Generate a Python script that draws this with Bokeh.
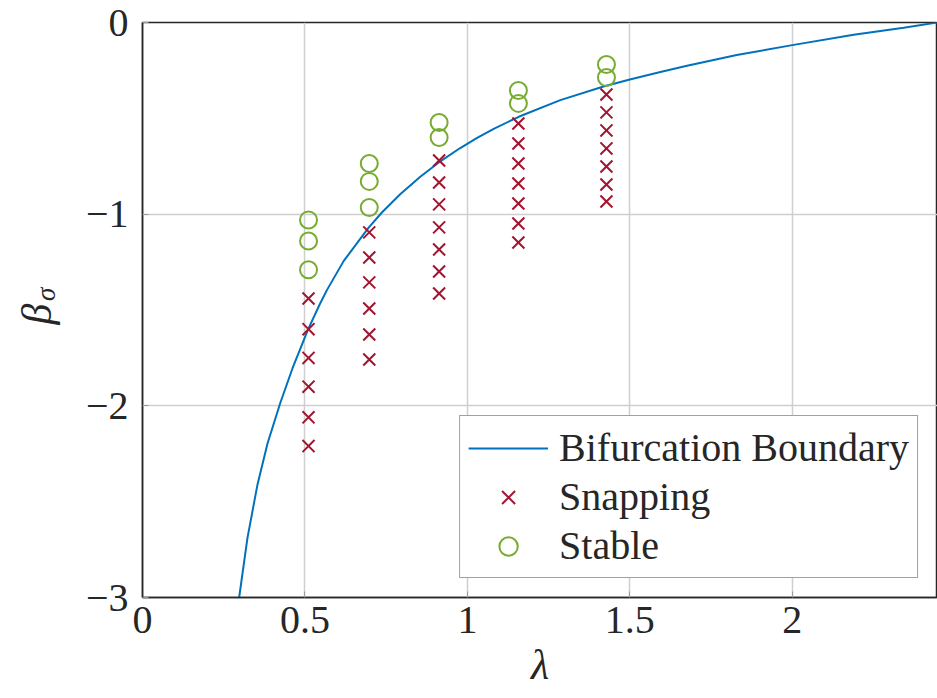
import math
from bokeh.plotting import figure
from bokeh.layouts import row
from bokeh.models import Range1d, FixedTicker, Legend, LegendItem
from bokeh.core.properties import value
from bokeh.embed import file_html
from bokeh.resources import INLINE

# Bifurcation boundary
curve_lambda = [0.2975, 0.323, 0.354, 0.385, 0.424, 0.4615, 0.51, 0.5456, 0.568, 0.619,
                0.696, 0.7375, 0.794, 0.855, 0.912, 0.978, 1.030, 1.081, 1.158, 1.286,
                1.419, 1.5, 1.594, 1.676, 1.829, 2.0, 2.189, 2.343, 2.447]
curve_beta = [-3.000, -2.690, -2.410, -2.195, -1.985, -1.805, -1.600, -1.470, -1.395, -1.245,
              -1.070, -0.990, -0.895, -0.805, -0.730, -0.655, -0.602, -0.555, -0.492, -0.405,
              -0.334, -0.297, -0.258, -0.226, -0.170, -0.118, -0.064, -0.027, 0.0]

# Snapping points
snap_lambda = [0.511] * 6 + [0.698] * 6 + [0.913] * 7 + [1.157] * 7 + [1.428] * 7
snap_beta = [-1.44, -1.60, -1.75, -1.90, -2.06, -2.21,
             -1.095, -1.226, -1.356, -1.492, -1.628, -1.758,
             -0.72, -0.835, -0.949, -1.069, -1.184, -1.299, -1.414,
             -0.527, -0.631, -0.736, -0.840, -0.944, -1.049, -1.148,
             -0.376, -0.469, -0.563, -0.657, -0.751, -0.845, -0.934]

# Stable points
stable_lambda = [0.511] * 3 + [0.698] * 3 + [0.913] * 2 + [1.157] * 2 + [1.428] * 2
stable_beta = [-1.03, -1.14, -1.29,
               -0.736, -0.829, -0.965,
               -0.522, -0.600,
               -0.355, -0.422,
               -0.219, -0.287]

x_ticks = [0, 0.5, 1, 1.5, 2]
x_tick_labels = ["0", "0.5", "1", "1.5", "2"]
y_ticks = [-3, -2, -1, 0]
y_tick_labels = ["\u22123", "\u22122", "\u22121", "0"]
y_label_main = ["\u03b2"]
y_label_sub = ["\u03c3"]

FONT = "Liberation Serif"
DARK = "#262626"
SIDE_W = 70

# narrow side panel holding the y-axis label (beta with subscript sigma)
side = figure(width=SIDE_W, height=698, output_backend="svg", toolbar_location=None,
              x_range=Range1d(0, SIDE_W), y_range=Range1d(698, 0),
              min_border=0, outline_line_color=None)
side.axis.visible = False
side.grid.visible = False
side.background_fill_color = "white"
side.border_fill_color = "white"
side.text(x=[36], y=[354], text=y_label_main, angle=math.pi / 2,
          text_font=value(FONT), text_font_style="italic", text_font_size="42px",
          text_color=DARK, text_align="center", text_baseline="middle")
side.text(x=[45], y=[330], text=y_label_sub, angle=math.pi / 2,
          text_font=value(FONT), text_font_style="italic", text_font_size="27px",
          text_color=DARK, text_align="center", text_baseline="middle")

p = figure(width=937 - SIDE_W, height=698, output_backend="svg", toolbar_location=None,
           x_range=Range1d(0, 2.447), y_range=Range1d(-3, 0),
           min_border_left=142 - SIDE_W, min_border_right=0, min_border_top=22,
           min_border_bottom=101)
p.background_fill_color = "white"
p.border_fill_color = "white"
p.outline_line_color = DARK
p.outline_line_width = 1.5

for ax in (p.xaxis, p.yaxis):
    ax.major_label_text_font = FONT
    ax.major_label_text_font_size = "40px"
    ax.major_label_text_color = DARK
    ax.axis_line_color = DARK
    ax.axis_line_width = 1.5
    ax.major_tick_in = 6
    ax.major_tick_out = 0
    ax.major_tick_line_color = "#9a9a9a"
    ax.minor_tick_line_color = None

p.xaxis.ticker = FixedTicker(ticks=x_ticks)
p.xaxis.major_label_overrides = {t: l for t, l in zip(x_ticks, x_tick_labels)}
p.yaxis.ticker = FixedTicker(ticks=y_ticks)
p.yaxis.major_label_overrides = {t: l for t, l in zip(y_ticks, y_tick_labels)}
p.xaxis.major_label_standoff = 9
p.yaxis.major_label_standoff = 14

p.xaxis.axis_label = "\u03bb"
p.xaxis.axis_label_text_font = FONT
p.xaxis.axis_label_text_font_style = "italic"
p.xaxis.axis_label_text_font_size = "42px"
p.xaxis.axis_label_text_color = DARK
p.xaxis.axis_label_standoff = 6

p.xgrid.ticker = FixedTicker(ticks=x_ticks)
p.ygrid.ticker = FixedTicker(ticks=y_ticks)
p.grid.grid_line_color = "#cfcfcf"
p.grid.grid_line_width = 1.5

r_line = p.line(curve_lambda, curve_beta, line_color="#0072BD", line_width=2)
r_snap = p.scatter(snap_lambda, snap_beta, marker="x", size=17,
                   line_color="#A2142F", line_width=2)
r_stab = p.scatter(stable_lambda, stable_beta, marker="circle", size=17,
                   line_color="#77AC30", fill_color=None, line_width=2)

legend = Legend(items=[LegendItem(label="Bifurcation Boundary", renderers=[r_line]),
                       LegendItem(label="Snapping", renderers=[r_snap]),
                       LegendItem(label="Stable", renderers=[r_stab])],
                location="bottom_right")
legend.label_text_font = FONT
legend.label_text_font_size = "40px"
legend.label_text_color = DARK
legend.border_line_color = "#444444"
legend.border_line_width = 1.5
legend.glyph_width = 80
legend.glyph_height = 46
legend.label_height = 46
legend.spacing = 2
legend.padding = 8
legend.margin = 19
legend.label_standoff = 11
legend.background_fill_alpha = 1
p.add_layout(legend)

layout = row(side, p, spacing=0)
open("out.html", "w").write(file_html(layout, INLINE))
